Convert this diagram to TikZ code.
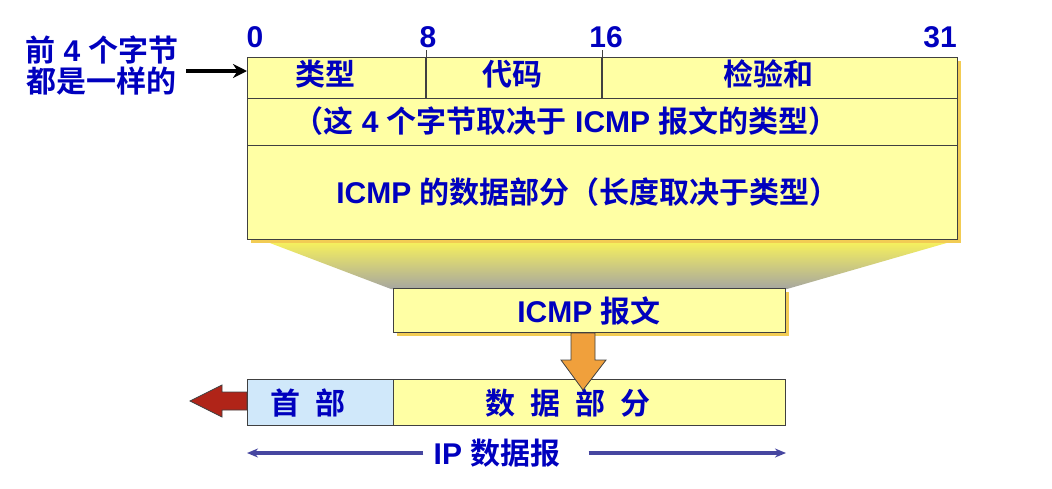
\documentclass[tikz,border=0pt]{standalone}
\usepackage{fontspec}
\setmainfont{Liberation Sans}
\newfontfamily\cjk{Noto Sans CJK SC}[BoldFont=Noto Sans CJK SC Bold]
\newcommand\zh[1]{{\cjk\bfseries #1}}
\usetikzlibrary{arrows.meta}

\definecolor{txtblue}{RGB}{0,0,190}
\definecolor{boxyel}{RGB}{255,255,164}
\definecolor{hdrblue}{RGB}{208,232,250}
\definecolor{shadgold}{RGB}{242,204,84}
\definecolor{gradtop}{RGB}{250,244,90}
\definecolor{gradbot}{RGB}{166,166,160}
\definecolor{arrorange}{RGB}{240,160,60}
\definecolor{arrred}{RGB}{176,36,24}
\definecolor{linegray}{RGB}{64,64,64}
\definecolor{dimblue}{RGB}{70,70,160}

\begin{document}
\begin{tikzpicture}[x=1pt,y=-1pt,
    field/.style={draw=linegray, line width=1pt, fill=boxyel,
        inner sep=0pt, anchor=north west},
    lbl/.style={text=txtblue, font=\fontsize{30}{31}\selectfont\bfseries,
        inner sep=0pt},
    shadowbox/.style={fill=shadgold, draw=none}]
\useasboundingbox (0,0) rectangle (1052,488);

% the funnel between the header and the ICMP message,
% drawn first so that the boxes sit on top of it
\shade[top color=gradtop, bottom color=gradbot]
    (262,240) -- (957,240) -- (787,289) -- (391,289) -- cycle;

% shadows
\fill[shadowbox] (251,61) rectangle (961,243);
\fill[shadowbox] (397,292) rectangle (789,336);

% the ICMP header: one row of three fields,
% then two rows across the full width
\node[field, minimum width=178pt, minimum height=41pt] (type) at (247,57) {};
\node[field, minimum width=176pt, minimum height=41pt] (code) at (425,57) {};
\node[field, minimum width=356pt, minimum height=41pt] (chk) at (601,57) {};
\node[field, minimum width=710pt, minimum height=47pt] (rest) at (247,98) {};
\node[field, minimum width=710pt, minimum height=94pt] (body) at (247,145) {};

% bit ticks above the dividers
\draw[linegray, line width=1pt] ([yshift=7pt]type.north east) -- (type.south east);
\draw[linegray, line width=1pt] ([yshift=7pt]code.north east) -- (code.south east);

% field texts
\node[lbl] (typetxt) at (325,74) {\zh{类型}};
\node[lbl] (codetxt) at (512,74) {\zh{代码}};
\node[lbl] (chktxt) at (768,74) {\zh{检验和}};
\node[lbl] (resttxt) at (566,121) {\zh{（这} 4 \zh{个字节取决于} ICMP \zh{报文的类型）}};
\node[lbl] (bodytxt) at (588,192) {ICMP \zh{的数据部分（长度取决于类型）}};

% bit numbers
\node[lbl] (b0) at (255,37) {0};
\node[lbl] (b8) at (428,37) {8};
\node[lbl] (b16) at (606,37) {16};
\node[lbl] (b31) at (940,37) {31};

% the note on the left
\node[lbl, align=center] (note) at (102,66) {\zh{前} 4 \zh{个字节}\\\zh{都是一样的}};
\coordinate (nt) at (186,71);
\draw[line width=3.5pt, -{Stealth[length=14pt,width=14pt]}] (nt) -- (nt -| type.west);

% the ICMP message
\node[field, minimum width=392pt, minimum height=44pt] (icmp) at (393,288) {};
\node[lbl] (icmptxt) at (589,311) {ICMP \zh{报文}};

% the IP datagram
\node[field, fill=hdrblue, minimum width=146pt, minimum height=46pt] (hdr) at (247,379) {};
\node[field, minimum width=392pt, minimum height=46pt] (pay) at (393,379) {};
\node[lbl] (hdrtxt) at (308,403) {\zh{首\hspace{15pt}部}};
\node[lbl] (paytxt) at (568,403) {\zh{数\hspace{15pt}据\hspace{15pt}部\hspace{15pt}分}};

% the message goes into the data part
\draw[fill=arrorange, draw=linegray, line width=0.8pt]
    (571,333) -- (595,333) -- (595,360) -- (606,360) -- (583,390)
    -- (561,360) -- (571,360) -- cycle;

% the header is stripped off
\draw[fill=arrred, draw=linegray, line width=0.8pt]
    (247,392) -- (222,392) -- (222,385) -- (190,401) -- (222,417)
    -- (222,410) -- (247,410) -- cycle;

% length of the datagram
\node[lbl] (iptxt) at (497,453) {IP \zh{数据报}};
\draw[dimblue, line width=3.5pt, -{Stealth[length=11pt,width=9pt]}]
    ([xshift=-10pt]iptxt.west) -- (iptxt.west -| hdr.west);
\draw[dimblue, line width=3.5pt, -{Stealth[length=11pt,width=9pt]}]
    ([xshift=28pt]iptxt.east) -- (iptxt.east -| pay.east);
\end{tikzpicture}
\end{document}
